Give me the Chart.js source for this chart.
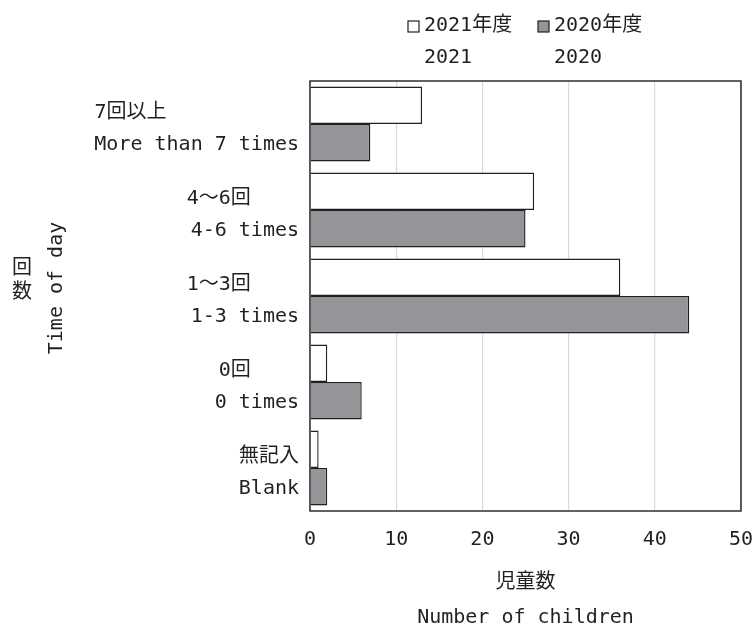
<!DOCTYPE html>
<html>
<head>
<meta charset="utf-8">
<script src="https://cdn.jsdelivr.net/npm/chart.js@4"></script>
<style>
  html, body { margin: 0; padding: 0; background: #fff; overflow: hidden; }
  #wrap { width: 755px; height: 627px; }
</style>
</head>
<body>
<div id="wrap"><canvas id="c" width="755" height="627"></canvas></div>
<script>
// Survey categories (Japanese / English) and counts per school year
const categoriesJa = ['7回以上', '4〜6回', '1〜3回', '0回', '無記入'];
const categoriesEn = ['More than 7 times', '4-6 times', '1-3 times', '0 times', 'Blank'];
const values2021 = [13, 26, 36, 2, 1];
const values2020 = [7, 25, 44, 6, 2];
const seriesNames = ['2021年度', '2020年度'];
const seriesNamesEn = ['2021', '2020'];
const xTicks = [0, 10, 20, 30, 40, 50];
const xTitle = ['児童数', 'Number of children'];
const yTitleJa = ['回', '数'];
const yTitleEn = 'Time of day';

const INK = '#231f20';
const GREY = '#939598';
const FAMILY = '"DejaVu Sans Mono", "Noto Sans CJK JP", monospace';
const FONT_PX = 20;

// Pad the shorter line of a two-line label so both lines start at the same x
const measureCtx = document.createElement('canvas').getContext('2d');
function alignLeft(lines) {
  measureCtx.font = FONT_PX + 'px ' + FAMILY;
  const w = lines.map(l => measureCtx.measureText(l).width);
  const maxW = Math.max(...w);
  const sp = measureCtx.measureText(' ').width;
  return lines.map((l, i) => l + ' '.repeat(Math.max(0, Math.round((maxW - w[i]) / sp))));
}

const seriesFill = ['#ffffff', GREY];

const decorations = {
  id: 'decorations',
  afterDraw(chart) {
    const { ctx, chartArea: a } = chart;
    ctx.save();
    // frame around the plot area
    ctx.strokeStyle = INK;
    ctx.lineWidth = 1.4;
    ctx.strokeRect(a.left, a.top, a.right - a.left, a.bottom - a.top);

    // legend: swatch + two-line caption for each series
    const keyX = [408, 538];
    ctx.font = FONT_PX + 'px ' + FAMILY;
    ctx.textBaseline = 'middle';
    ctx.textAlign = 'left';
    seriesNames.forEach((name, i) => {
      ctx.fillStyle = seriesFill[i];
      ctx.fillRect(keyX[i], 21, 11, 11);
      ctx.lineWidth = 1.2;
      ctx.strokeStyle = INK;
      ctx.strokeRect(keyX[i], 21, 11, 11);
      ctx.fillStyle = INK;
      ctx.fillText(name, keyX[i] + 16, 26);
      ctx.fillText(seriesNamesEn[i], keyX[i] + 16, 58);
    });

    // vertical axis title: stacked Japanese + rotated English
    ctx.textAlign = 'center';
    ctx.fillText(yTitleJa[0], 22, 269);
    ctx.fillText(yTitleJa[1], 22, 293);
    ctx.translate(57, 288);
    ctx.rotate(-Math.PI / 2);
    ctx.fillText(yTitleEn, 0, 0);
    ctx.restore();
  }
};

new Chart(document.getElementById('c'), {
  type: 'bar',
  data: {
    labels: categoriesJa.map((ja, i) => [ja, categoriesEn[i]]),
    datasets: [
      {
        label: seriesNames[0],
        data: values2021,
        backgroundColor: seriesFill[0],
        borderColor: INK,
        borderWidth: 1.4,
        categoryPercentage: 0.872,
        barPercentage: 1.0
      },
      {
        label: seriesNames[1],
        data: values2020,
        backgroundColor: seriesFill[1],
        borderColor: INK,
        borderWidth: 1.4,
        categoryPercentage: 0.872,
        barPercentage: 1.0
      }
    ]
  },
  options: {
    indexAxis: 'y',
    responsive: false,
    animation: false,
    devicePixelRatio: 1,
    layout: { padding: { top: 81, right: 0, bottom: 0, left: 0 } },
    plugins: {
      legend: { display: false },
      tooltip: { enabled: false }
    },
    scales: {
      x: {
        type: 'linear',
        min: xTicks[0],
        max: xTicks[xTicks.length - 1],
        afterBuildTicks: s => { s.ticks = xTicks.map(v => ({ value: v })); },
        ticks: {
          color: INK,
          padding: 17,
          font: { family: FAMILY, size: FONT_PX, lineHeight: 1.2 },
          maxRotation: 0
        },
        grid: { color: '#d9d9d9', lineWidth: 1.2, drawTicks: false },
        border: { display: false },
        title: {
          display: true,
          text: xTitle,
          color: INK,
          font: { family: FAMILY, size: FONT_PX, lineHeight: 1.75 },
          padding: { top: 8, bottom: -8 }
        },
        afterFit: s => {
          s.height = 116;
          s.paddingLeft = 0;
          s.paddingRight = 14;
        }
      },
      y: {
        type: 'category',
        ticks: {
          color: INK,
          padding: 11,
          labelOffset: 5,
          autoSkip: false,
          font: { family: FAMILY, size: FONT_PX, lineHeight: 1.6 },
          callback: function (value, index) {
            return alignLeft([categoriesJa[index], categoriesEn[index]]);
          }
        },
        grid: { display: false, drawTicks: false },
        border: { display: false },
        afterFit: s => { s.width = 310; }
      }
    }
  },
  plugins: [decorations]
});
</script>
</body>
</html>
